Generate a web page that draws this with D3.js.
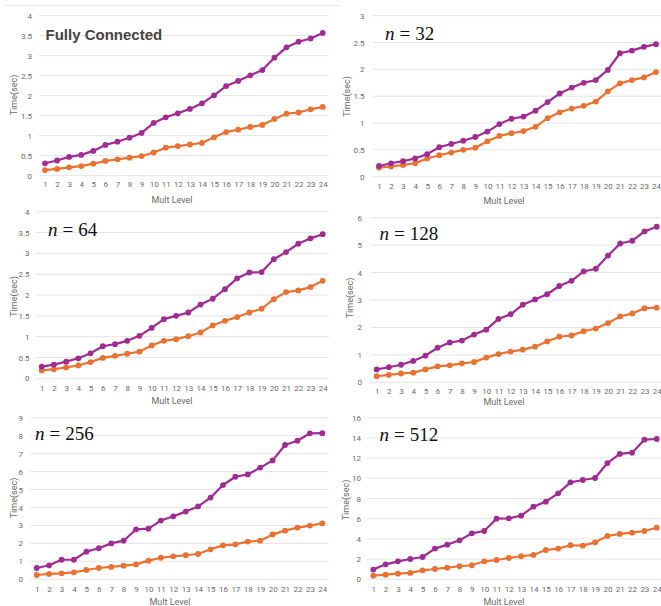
<!DOCTYPE html>
<html>
<head>
<meta charset="utf-8">
<script src="https://cdn.jsdelivr.net/npm/d3@7"></script>
<style>
  html, body { margin: 0; padding: 0; background: #fff; }
  svg { display: block; }
</style>
</head>
<body>
<svg id="chart" width="661" height="606"></svg>
<script>
// ---------- DATA ----------
const multLevels = [1,2,3,4,5,6,7,8,9,10,11,12,13,14,15,16,17,18,19,20,21,22,23,24];

const panelTitles = ["Fully Connected", "n = 32", "n = 64", "n = 128", "n = 256", "n = 512"];

const fcPurple = [0.31,0.38,0.47,0.52,0.62,0.77,0.85,0.95,1.07,1.32,1.46,1.56,1.67,1.81,2.01,2.24,2.37,2.51,2.64,2.95,3.21,3.35,3.43,3.57];
const fcOrange = [0.14,0.17,0.21,0.24,0.30,0.37,0.41,0.45,0.49,0.58,0.70,0.74,0.78,0.82,0.96,1.09,1.15,1.22,1.27,1.42,1.55,1.58,1.66,1.72];

const n32Purple = [0.20,0.25,0.29,0.34,0.42,0.55,0.61,0.67,0.74,0.84,0.98,1.08,1.12,1.23,1.39,1.55,1.66,1.75,1.80,1.99,2.30,2.35,2.42,2.47];
const n32Orange = [0.17,0.19,0.22,0.25,0.34,0.40,0.45,0.50,0.54,0.66,0.76,0.81,0.85,0.93,1.09,1.20,1.27,1.32,1.40,1.59,1.74,1.80,1.85,1.95];

const n64Purple = [0.28,0.33,0.40,0.48,0.60,0.77,0.82,0.90,1.02,1.21,1.42,1.50,1.58,1.77,1.91,2.14,2.40,2.54,2.55,2.86,3.03,3.23,3.36,3.46];
const n64Orange = [0.19,0.22,0.26,0.31,0.39,0.49,0.54,0.59,0.64,0.79,0.90,0.94,1.01,1.10,1.27,1.38,1.47,1.58,1.67,1.90,2.07,2.11,2.19,2.34];

const n128Purple = [0.47,0.55,0.64,0.78,0.97,1.26,1.45,1.52,1.74,1.92,2.31,2.48,2.83,3.02,3.21,3.51,3.70,4.04,4.14,4.62,5.06,5.16,5.50,5.67];
const n128Orange = [0.22,0.27,0.32,0.35,0.47,0.58,0.62,0.69,0.74,0.90,1.03,1.12,1.19,1.30,1.49,1.66,1.71,1.86,1.96,2.16,2.40,2.51,2.70,2.72];

const n256Purple = [0.63,0.78,1.09,1.09,1.54,1.73,2.00,2.15,2.78,2.82,3.27,3.51,3.77,4.06,4.55,5.25,5.71,5.84,6.22,6.62,7.48,7.72,8.13,8.14];
const n256Orange = [0.24,0.30,0.33,0.39,0.52,0.63,0.69,0.76,0.83,1.04,1.20,1.28,1.34,1.41,1.67,1.89,1.95,2.10,2.15,2.50,2.71,2.88,2.99,3.12];

const n512Purple = [0.96,1.48,1.78,2.01,2.21,3.04,3.43,3.86,4.55,4.78,6.00,6.04,6.30,7.19,7.69,8.51,9.60,9.83,10.03,11.51,12.41,12.54,13.82,13.89];
const n512Orange = [0.36,0.46,0.56,0.63,0.89,1.02,1.15,1.29,1.39,1.78,1.91,2.11,2.28,2.41,2.90,3.04,3.37,3.33,3.66,4.29,4.49,4.62,4.78,5.11];

const fcTicks   = [0,0.5,1,1.5,2,2.5,3,3.5,4];
const n32Ticks  = [0,0.5,1,1.5,2,2.5,3];
const n64Ticks  = [0,0.5,1,1.5,2,2.5,3,3.5,4];
const n128Ticks = [0,1,2,3,4,5,6];
const n256Ticks = [0,1,2,3,4,5,6,7,8,9];
const n512Ticks = [0,2,4,6,8,10,12,14,16];

const xAxisLabel = "Mult Level";
const yAxisLabel = "Time(sec)";

// ---------- STYLE / LAYOUT ----------
const purple = "#A02B93";
const orange = "#E97132";

const layout = [
  { x1: 45,    x24: 322.7, yZero: 175.7, yTop: 15.7,  labR: 32,  ylabX: 13.5, ylabY: 95,  xtY: 185.5, xlabX: 172, xlabY: 200,  tX: 45.5,  tY: 39.5, math: false },
  { x1: 379,   x24: 656,   yZero: 176.7, yTop: 15.7,  labR: 364.5, ylabX: 347, ylabY: 96.5, xtY: 187.5, xlabX: 504, xlabY: 200.5, tX: 385,  tY: 40, math: true },
  { x1: 41.7,  x24: 322.7, yZero: 378.3, yTop: 211.7, labR: 29.5, ylabX: 13.5, ylabY: 296.5, xtY: 389.5, xlabX: 172, xlabY: 400.5, tX: 48,  tY: 236, math: true },
  { x1: 376.7, x24: 656.7, yZero: 382.3, yTop: 217.7, labR: 362, ylabX: 350, ylabY: 298, xtY: 392.5, xlabX: 504, xlabY: 401.5, tX: 379.5, tY: 239.5, math: true },
  { x1: 36.7,  x24: 322.3, yZero: 579.3, yTop: 417.7, labR: 23,  ylabX: 13.5, ylabY: 498, xtY: 590.5, xlabX: 170, xlabY: 602, tX: 35,  tY: 439.5, math: true },
  { x1: 373.3, x24: 656.7, yZero: 579.3, yTop: 417.7, labR: 361, ylabX: 346, ylabY: 500, xtY: 590.5, xlabX: 504, xlabY: 602, tX: 379.5, tY: 440.5, math: true }
];

const panelSeries = [
  [fcPurple, fcOrange],
  [n32Purple, n32Orange],
  [n64Purple, n64Orange],
  [n128Purple, n128Orange],
  [n256Purple, n256Orange],
  [n512Purple, n512Orange]
];
const panelTicks = [fcTicks, n32Ticks, n64Ticks, n128Ticks, n256Ticks, n512Ticks];

const svg = d3.select("#chart");

// faint frame line at top of first chart
svg.append("line").attr("x1", 5).attr("x2", 340).attr("y1", 5.5).attr("y2", 5.5)
  .attr("stroke", "#e9e9e9").attr("stroke-width", 1);

const tickFont = "Roboto, 'Liberation Sans', sans-serif";

panelSeries.forEach((series, i) => {
  const L = layout[i];
  const ticks = panelTicks[i];
  const g = svg.append("g");

  const x = d3.scalePoint().domain(multLevels).range([L.x1, L.x24]);
  const step = x.step();
  const y = d3.scaleLinear().domain([0, ticks[ticks.length - 1]]).range([L.yZero, L.yTop]);

  // gridlines
  g.selectAll("line.grid").data(ticks).join("line")
    .attr("x1", L.x1 - step / 2).attr("x2", L.x24 + step / 2)
    .attr("y1", d => y(d)).attr("y2", d => y(d))
    .attr("stroke", "#dcdcdc").attr("stroke-width", 0.8);

  // y tick labels via axis
  const yAxis = d3.axisLeft(y).tickValues(ticks).tickSize(0).tickPadding(0)
    .tickFormat(d3.format("~g"));
  const ya = g.append("g").attr("transform", `translate(${L.labR},0)`).call(yAxis);
  ya.select(".domain").remove();
  ya.selectAll("text").attr("font-family", tickFont).attr("font-size", 8)
    .attr("fill", "#6b6b6b");

  // x tick labels via axis
  const xAxis = d3.axisBottom(x).tickSize(0).tickPadding(0);
  const xa = g.append("g").attr("transform", `translate(0,${L.xtY - 4})`).call(xAxis);
  xa.select(".domain").remove();
  xa.selectAll("text").attr("font-family", tickFont).attr("font-size", 8)
    .attr("fill", "#6b6b6b").attr("dy", "0.71em");

  // axis titles
  g.append("text").attr("x", L.xlabX).attr("y", L.xlabY).attr("dy", "0.35em")
    .attr("text-anchor", "middle").attr("font-family", tickFont).attr("font-size", 9)
    .attr("fill", "#6b6b6b").text(xAxisLabel);
  g.append("text").attr("transform", `translate(${L.ylabX},${L.ylabY}) rotate(-90)`)
    .attr("dy", "0.35em").attr("text-anchor", "middle").attr("font-family", tickFont)
    .attr("font-size", 9).attr("fill", "#6b6b6b").text(yAxisLabel);

  // series
  const colors = [purple, orange];
  // draw orange first, purple on top
  [1, 0].forEach(si => {
    const vals = series[si];
    const pts = multLevels.map((m, k) => [x(m), y(vals[k])]);
    g.append("path").attr("d", d3.line()(pts)).attr("fill", "none")
      .attr("stroke", colors[si]).attr("stroke-width", 2.2)
      .attr("stroke-linejoin", "round");
    g.selectAll(null).data(pts).join("circle")
      .attr("cx", d => d[0]).attr("cy", d => d[1]).attr("r", 2.9)
      .attr("fill", colors[si]);
  });

  // panel title
  const title = panelTitles[i];
  if (!L.math) {
    g.append("text").attr("x", L.tX).attr("y", L.tY)
      .attr("font-family", "'Liberation Sans', Arial, sans-serif").attr("font-weight", "bold")
      .attr("font-size", 15).attr("fill", "#454545").text(title);
  } else {
    const parts = title.split(" = ");
    const t = g.append("text").attr("x", L.tX).attr("y", L.tY)
      .attr("font-family", "'Liberation Serif', 'Times New Roman', serif").attr("font-size", 19)
      .attr("fill", "#111");
    t.append("tspan").attr("font-style", "italic").text(parts[0]);
    t.append("tspan").attr("dx", 5).text("=");
    t.append("tspan").attr("dx", 5).text(parts[1]);
  }
});
</script>
</body>
</html>
